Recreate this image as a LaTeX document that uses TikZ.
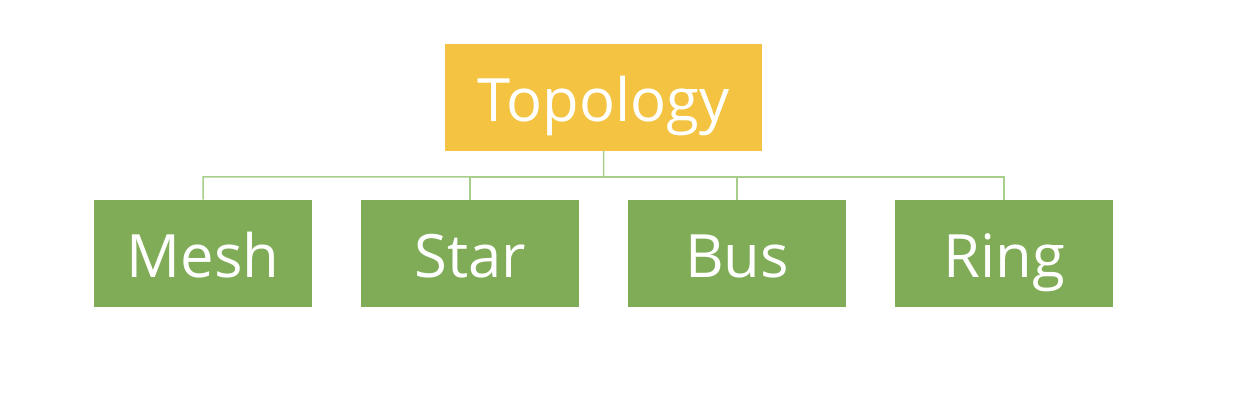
\documentclass[tikz,border=0pt]{standalone}
\usepackage{fontspec}
\setmainfont{Open Sans}
\usepackage{xcolor}
\definecolor{gold00}{HTML}{F4C342}
\definecolor{gre00}{HTML}{80AC58}
\definecolor{gre01}{HTML}{A8CE8C}
\usepackage{tikz}
\usetikzlibrary{calc}
\usetikzlibrary{positioning}
\tikzstyle{topic} = [rectangle, minimum width=317bp, minimum height=107bp, inner sep=0pt, outer sep=0pt, text height=48bp, text depth=0pt, text centered, fill=gold00, text=white, font=\fontsize{60}{72}\selectfont]
\tikzstyle{kind} = [rectangle, minimum width=218bp, minimum height=107bp, inner sep=0pt, outer sep=0pt, text height=48bp, text depth=0pt, text centered, fill=gre00, text=white, font=\fontsize{60}{72}\selectfont]
\tikzstyle{branch} = [line width=1.5bp, gre01]

\begin{document}
\begin{tikzpicture}[x=1bp,y=1bp]
        \useasboundingbox (0,0) rectangle (1252,-414);
        \node (mesh)[kind] at (203,-253) {Mesh};
        \node (star)[kind,right=49bp of mesh]{Star};
        \node (bus)[kind,right=49bp of star]{Bus};
        \node (ring)[kind,right=49bp of bus]{Ring};
        \node (topo)[topic,above=49bp of $(star.north)!0.5!(bus.north)$, anchor=south]{Topology};
        \coordinate (hub) at ($(topo.south)!0.54!(topo.south|-mesh.north)$);
        \draw [branch] (topo.south) -- (hub) -| (mesh.north);
        \draw [branch] (hub) -| (star.north);
        \draw [branch] (hub) -| (bus.north);
        \draw [branch] (hub) -| (ring.north);
    \end{tikzpicture}
\end{document}
